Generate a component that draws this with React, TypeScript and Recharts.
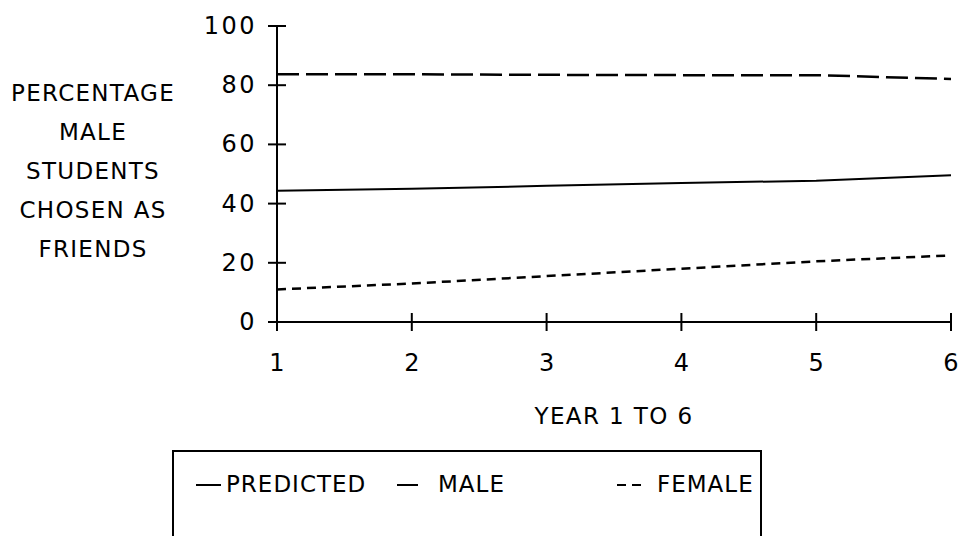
import { LineChart, Line, XAxis, YAxis, Legend } from "recharts";

const years = [1, 2, 3, 4, 5, 6];
const predicted = [44.3, 45, 46, 47, 47.7, 49.6];
const male = [83.7, 83.7, 83.5, 83.4, 83.4, 82.1];
const female = [11, 13, 15.5, 18, 20.5, 22.5];
const yTicks = [0, 20, 40, 60, 80, 100];
const yLabelLines = ["PERCENTAGE", "MALE", "STUDENTS", "CHOSEN AS", "FRIENDS"];

const chartData = years.map((year, i) => ({
  year,
  PREDICTED: predicted[i],
  MALE: male[i],
  FEMALE: female[i],
}));

const FONT = "'DejaVu Sans', sans-serif";
const dashes: Record<string, string | undefined> = {
  PREDICTED: undefined,
  MALE: "22 7",
  FEMALE: "9 6",
};
const BOX_LEFT = 172;
const BOX_WIDTH = 590;
// legend symbol / text x positions inside the box
const legendPos: Record<string, { sym: number; len: number; text: number }> = {
  PREDICTED: { sym: 196 - BOX_LEFT, len: 25, text: 226 - BOX_LEFT },
  MALE: { sym: 397 - BOX_LEFT, len: 21, text: 438 - BOX_LEFT },
  FEMALE: { sym: 617 - BOX_LEFT, len: 25, text: 657 - BOX_LEFT },
};

interface TickProps { x: number; y: number; payload: { value: number } }

const YTick = ({ x, y, payload }: TickProps) => (
  <g>
    <line x1={x - 9} x2={x + 9} y1={y} y2={y} stroke="#000" strokeWidth={2} />
    <text x={x - 20} y={y} textAnchor="end" dominantBaseline="central"
      fontFamily={FONT} fontSize={24} letterSpacing={2.5} fill="#000">
      {payload.value}
    </text>
  </g>
);

const XTick = ({ x, y, payload }: TickProps) => (
  <g>
    <line x1={x} x2={x} y1={y - 9} y2={y + 9} stroke="#000" strokeWidth={2} />
    <text x={x} y={y + 41} textAnchor="middle" dominantBaseline="central"
      fontFamily={FONT} fontSize={24} fill="#000">
      {payload.value}
    </text>
  </g>
);

interface LegendEntry { value: string; dataKey?: string }

const LegendBox = ({ payload }: { payload?: LegendEntry[] }) => (
  <div style={{
    position: "relative", width: BOX_WIDTH, height: 120, borderTop: "2px solid #000",
    borderLeft: "2px solid #000", borderRight: "2px solid #000", boxSizing: "border-box",
  }}>
    {(payload || []).map((entry) => {
      const key = String(entry.dataKey ?? entry.value);
      const p = legendPos[key];
      return (
        <div key={key}>
          <svg style={{ position: "absolute", left: p.sym - 2, top: 30 }} width={p.len} height={6}>
            <line x1={0} x2={p.len} y1={3} y2={3} stroke="#000" strokeWidth={2}
              strokeDasharray={dashes[key]} />
          </svg>
          <span style={{
            position: "absolute", left: p.text - 2, top: 18, fontFamily: FONT,
            fontSize: 23, letterSpacing: 1, color: "#000", whiteSpace: "nowrap", lineHeight: "28px",
          }}>
            {entry.value}
          </span>
        </div>
      );
    })}
  </div>
);

export default function App() {
  return (
    <div style={{ position: "absolute", left: 0, top: 0, width: 959, height: 536, background: "#fff" }}>
      <LineChart width={959} height={536} data={chartData}
        margin={{ top: 26, right: 8, left: 0, bottom: 154 }}>
        <XAxis dataKey="year" type="number" domain={[1, 6]} ticks={years}
          height={60} tickSize={0} tickMargin={0} tickLine={false}
          axisLine={{ stroke: "#000", strokeWidth: 2 }} tick={XTick} />
        <YAxis type="number" domain={[0, 100]} ticks={yTicks} width={277}
          tickSize={0} tickMargin={0} tickLine={false}
          axisLine={{ stroke: "#000", strokeWidth: 2 }} tick={YTick} />
        <Legend layout="horizontal" verticalAlign="middle" align="center"
          wrapperStyle={{ left: BOX_LEFT, top: 450, width: BOX_WIDTH, height: 0 }}
          content={<LegendBox />} />
        <Line dataKey="PREDICTED" type="linear" stroke="#000" strokeWidth={2}
          dot={false} isAnimationActive={false} />
        <Line dataKey="MALE" type="linear" stroke="#000" strokeWidth={2.5}
          strokeDasharray={dashes.MALE} dot={false} isAnimationActive={false} />
        <Line dataKey="FEMALE" type="linear" stroke="#000" strokeWidth={2.5}
          strokeDasharray={dashes.FEMALE} dot={false} isAnimationActive={false} />
        <text x={614} y={416} textAnchor="middle" dominantBaseline="central"
          fontFamily={FONT} fontSize={23} letterSpacing={1.4} fill="#000">
          YEAR 1 TO 6
        </text>
        <text x={93} y={93} textAnchor="middle" dominantBaseline="central"
          fontFamily={FONT} fontSize={23} letterSpacing={1.3} fill="#000">
          {yLabelLines.map((line, i) => (
            <tspan key={line} x={93} dy={i === 0 ? 0 : 39}>{line}</tspan>
          ))}
        </text>
      </LineChart>
    </div>
  );
}
